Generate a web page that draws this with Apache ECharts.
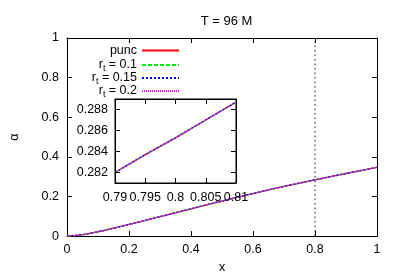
<!DOCTYPE html>
<html><head><meta charset="utf-8">
<script src="https://cdn.jsdelivr.net/npm/echarts@6/dist/echarts.min.js"></script>
<style>html,body{margin:0;padding:0;background:#fff}#c{width:399px;height:279px}</style>
</head><body><div id="c"></div>
<script>
const xs = [0, 0.05, 0.1, 0.15, 0.2, 0.3, 0.4, 0.5, 0.6, 0.7, 0.8, 0.9, 1];
const alpha = [0, 0.007, 0.022, 0.04, 0.059, 0.098, 0.138, 0.177, 0.215, 0.251, 0.284, 0.316, 0.347];
const insetX = [0.79, 0.795, 0.8, 0.805, 0.81];
const insetAlpha = [0.282, 0.2837, 0.2853, 0.287, 0.2887];
const insetYTicks = [0.282, 0.284, 0.286, 0.288];
const seriesNames = ['punc', 'r_t = 0.1', 'r_t = 0.15', 'r_t = 0.2'];
const legendLabels = ['{a|punc}', '{a|r}{s|t}{a| = 0.1}', '{a|r}{s|t}{a| = 0.15}', '{a|r}{s|t}{a| = 0.2}'];
const colors = ['#ff0000', '#00ee00', '#0000ff', '#ff00ff'];
const types = ['solid', [4, 2], [2, 2], [1, 1]];
const vlineX = 0.8;
const mainXTicks = 0.2, mainYTicks = 0.2;

const FONT = 'Liberation Sans';
const FS = 12.5;
const chart = echarts.init(document.getElementById('c'), null, {renderer: 'canvas'});
const txt = {color: '#000', fontFamily: FONT, fontSize: FS};
function axisBase(extra) {
  return Object.assign({
    axisLine: {show: true, onZero: false, lineStyle: {color: '#000', width: 1}},
    axisTick: {show: true, inside: true, length: 5, lineStyle: {color: '#000'}},
    splitLine: {show: false},
    axisLabel: Object.assign({}, txt),
  }, extra);
}
const series = [];
seriesNames.forEach((n, i) => {
  series.push({name: n, type: 'line', xAxisIndex: 0, yAxisIndex: 0, symbol: 'none', smooth: 0.3,
    data: xs.map((x, k) => [x, alpha[k]]), lineStyle: {color: colors[i], width: 1.3, type: types[i]}, itemStyle: {color: colors[i]}});
  series.push({name: n, type: 'line', xAxisIndex: 2, yAxisIndex: 2, symbol: 'none',
    data: insetX.map((x, k) => [x, insetAlpha[k]]), lineStyle: {color: colors[i], width: 1.3, type: types[i]}, itemStyle: {color: colors[i]}});
});
series.push({type: 'line', xAxisIndex: 0, yAxisIndex: 0, symbol: 'none', silent: true,
  data: [[vlineX, 0], [vlineX, 1]], lineStyle: {color: '#111', width: 1, type: [1.5, 3]}, z: 1});

const legends = seriesNames.map((n, i) => ({
  data: [n], right: 219, top: 44 + i * 13, orient: 'vertical', align: 'right',
  itemWidth: 37, itemHeight: 12, itemGap: 0, padding: 0, selectedMode: false,
  itemStyle: {opacity: 0},
  formatter: () => legendLabels[i],
  textStyle: {fontFamily: FONT, rich: {
    a: {fontSize: FS, fontFamily: FONT, color: '#000', lineHeight: 14},
    s: {fontSize: 9, fontFamily: FONT, color: '#000', lineHeight: 14, padding: [7, 0, 0, 0]}
  }}
}));

chart.setOption({
  animation: false,
  backgroundColor: '#fff',
  title: {text: 'T = 96 M', left: 221.5, top: 10, textAlign: 'center',
    textStyle: {fontFamily: FONT, fontSize: 13, fontWeight: 'normal', color: '#000'}},
  legend: legends,
  grid: [
    {left: 66, right: 22, top: 38, bottom: 40},
    {left: 115, right: 163, top: 99, bottom: 96, show: true, backgroundColor: '#fff', borderColor: '#000', borderWidth: 1, z: 3}
  ],
  xAxis: [
    axisBase({type: 'value', gridIndex: 0, min: 0, max: 1, interval: mainXTicks, name: 'x', nameLocation: 'middle', nameGap: 21,
      nameTextStyle: Object.assign({}, txt), axisLabel: Object.assign({}, txt, {margin: 7})}),
    axisBase({type: 'value', gridIndex: 0, position: 'top', min: 0, max: 1, interval: mainXTicks, axisLabel: {show: false}}),
    axisBase({type: 'value', gridIndex: 1, min: 0.79, max: 0.81, interval: 0.005, z: 4, axisLabel: Object.assign({}, txt, {margin: 8})}),
    axisBase({type: 'value', gridIndex: 1, position: 'top', min: 0.79, max: 0.81, interval: 0.005, z: 4, axisLabel: {show: false}})
  ],
  yAxis: [
    axisBase({type: 'value', gridIndex: 0, min: 0, max: 1, interval: mainYTicks, name: 'α', nameLocation: 'middle', nameGap: 46, nameRotate: 90,
      nameTextStyle: Object.assign({}, txt), axisLabel: Object.assign({}, txt, {margin: 8})}),
    axisBase({type: 'value', gridIndex: 0, position: 'right', min: 0, max: 1, interval: mainYTicks, axisLabel: {show: false}}),
    axisBase({type: 'value', gridIndex: 1, min: 0.281, max: 0.289, z: 4,
      axisTick: {show: true, inside: true, length: 5, lineStyle: {color: '#000'}, customValues: insetYTicks},
      axisLabel: Object.assign({}, txt, {margin: 7, customValues: insetYTicks, formatter: v => v.toFixed(3)})}),
    axisBase({type: 'value', gridIndex: 1, position: 'right', min: 0.281, max: 0.289, z: 4,
      axisTick: {show: true, inside: true, length: 5, lineStyle: {color: '#000'}, customValues: insetYTicks},
      axisLabel: {show: false}})
  ],
  series: series
});
</script></body></html>
